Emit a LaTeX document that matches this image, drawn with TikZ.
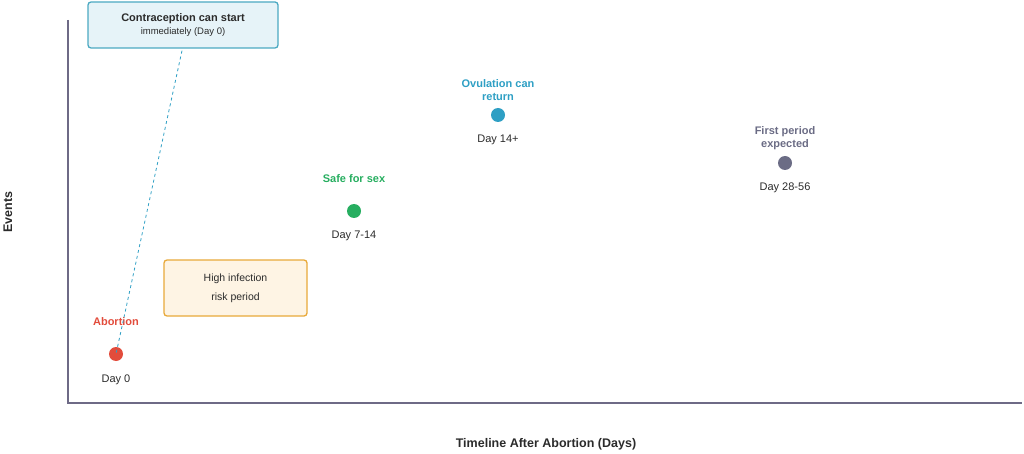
\documentclass[tikz,border=0pt]{standalone}
\usepackage{fontspec}
\setmainfont{Liberation Sans}
\definecolor{axis}{HTML}{6E6A86}
\definecolor{cred}{HTML}{E24C3C}
\definecolor{cgreen}{HTML}{27AE60}
\definecolor{cblue}{HTML}{2E9FC4}
\definecolor{cgray}{HTML}{6B6C85}
\definecolor{bluefill}{HTML}{E6F3F8}
\definecolor{blueedge}{HTML}{4BA9C2}
\definecolor{orfill}{HTML}{FEF4E4}
\definecolor{oredge}{HTML}{E8A93A}
\definecolor{txt}{HTML}{2B2B2B}
\begin{document}
\begin{tikzpicture}[x=1pt,y=-1pt,
  dot/.style={circle,inner sep=0pt,minimum size=14pt},
  lab/.style={font=\fontsize{11}{13.5}\selectfont\bfseries,align=center},
  day/.style={font=\fontsize{11}{13}\selectfont,text=txt},
  box/.style={draw,rounded corners=3pt,line width=1.3pt,align=center,inner sep=0pt}]
\useasboundingbox (0,0) rectangle (1024,454);
\draw[axis,line width=1.2pt] (68,20) -- (68,403) -- (1022,403);
\node[box,draw=blueedge,fill=bluefill,minimum width=190pt,minimum height=46pt] (contra) at (183,25)
  {{\fontsize{11}{14}\selectfont\bfseries\color{txt}Contraception can start}\\[1pt]{\fontsize{9.5}{12}\selectfont\color{txt}immediately (Day 0)}};
\node[box,draw=oredge,fill=orfill,minimum width=143pt,minimum height=56pt,font=\fontsize{10.5}{19}\selectfont,text=txt] (risk) at (235.5,288) {High infection\\risk period};
\node[dot,fill=cred] (ab) at (116,354) {};
\node[lab,text=cred] (abl) at (116,322) {Abortion};
\node[day] (abd) at (116,380) {Day 0};
\draw[cblue,dashed,line width=0.8pt] (contra.south) ++(-1,2) coordinate (cs) -- (ab.center);
\node[dot,fill=cgreen] (sf) at (354,211) {};
\node[lab,text=cgreen] (sfl) at (354,179) {Safe for sex};
\node[day] (sfd) at (354,236) {Day 7-14};
\node[dot,fill=cblue] (ov) at (498,115) {};
\node[lab,text=cblue] (ovl) at (498,90) {Ovulation can\\return};
\node[day] (ovd) at (498,140) {Day 14+};
\node[dot,fill=cgray] (fp) at (785,163) {};
\node[lab,text=cgray] (fpl) at (785,138) {First period\\expected};
\node[day] (fpd) at (785,188) {Day 28-56};
\node[font=\fontsize{12.5}{15}\selectfont\bfseries,text=txt,rotate=90] (ylab) at (8,212) {Events};
\node[font=\fontsize{12.5}{15}\selectfont\bfseries,text=txt] (xlab) at (546,444) {Timeline After Abortion (Days)};
\end{tikzpicture}
\end{document}
